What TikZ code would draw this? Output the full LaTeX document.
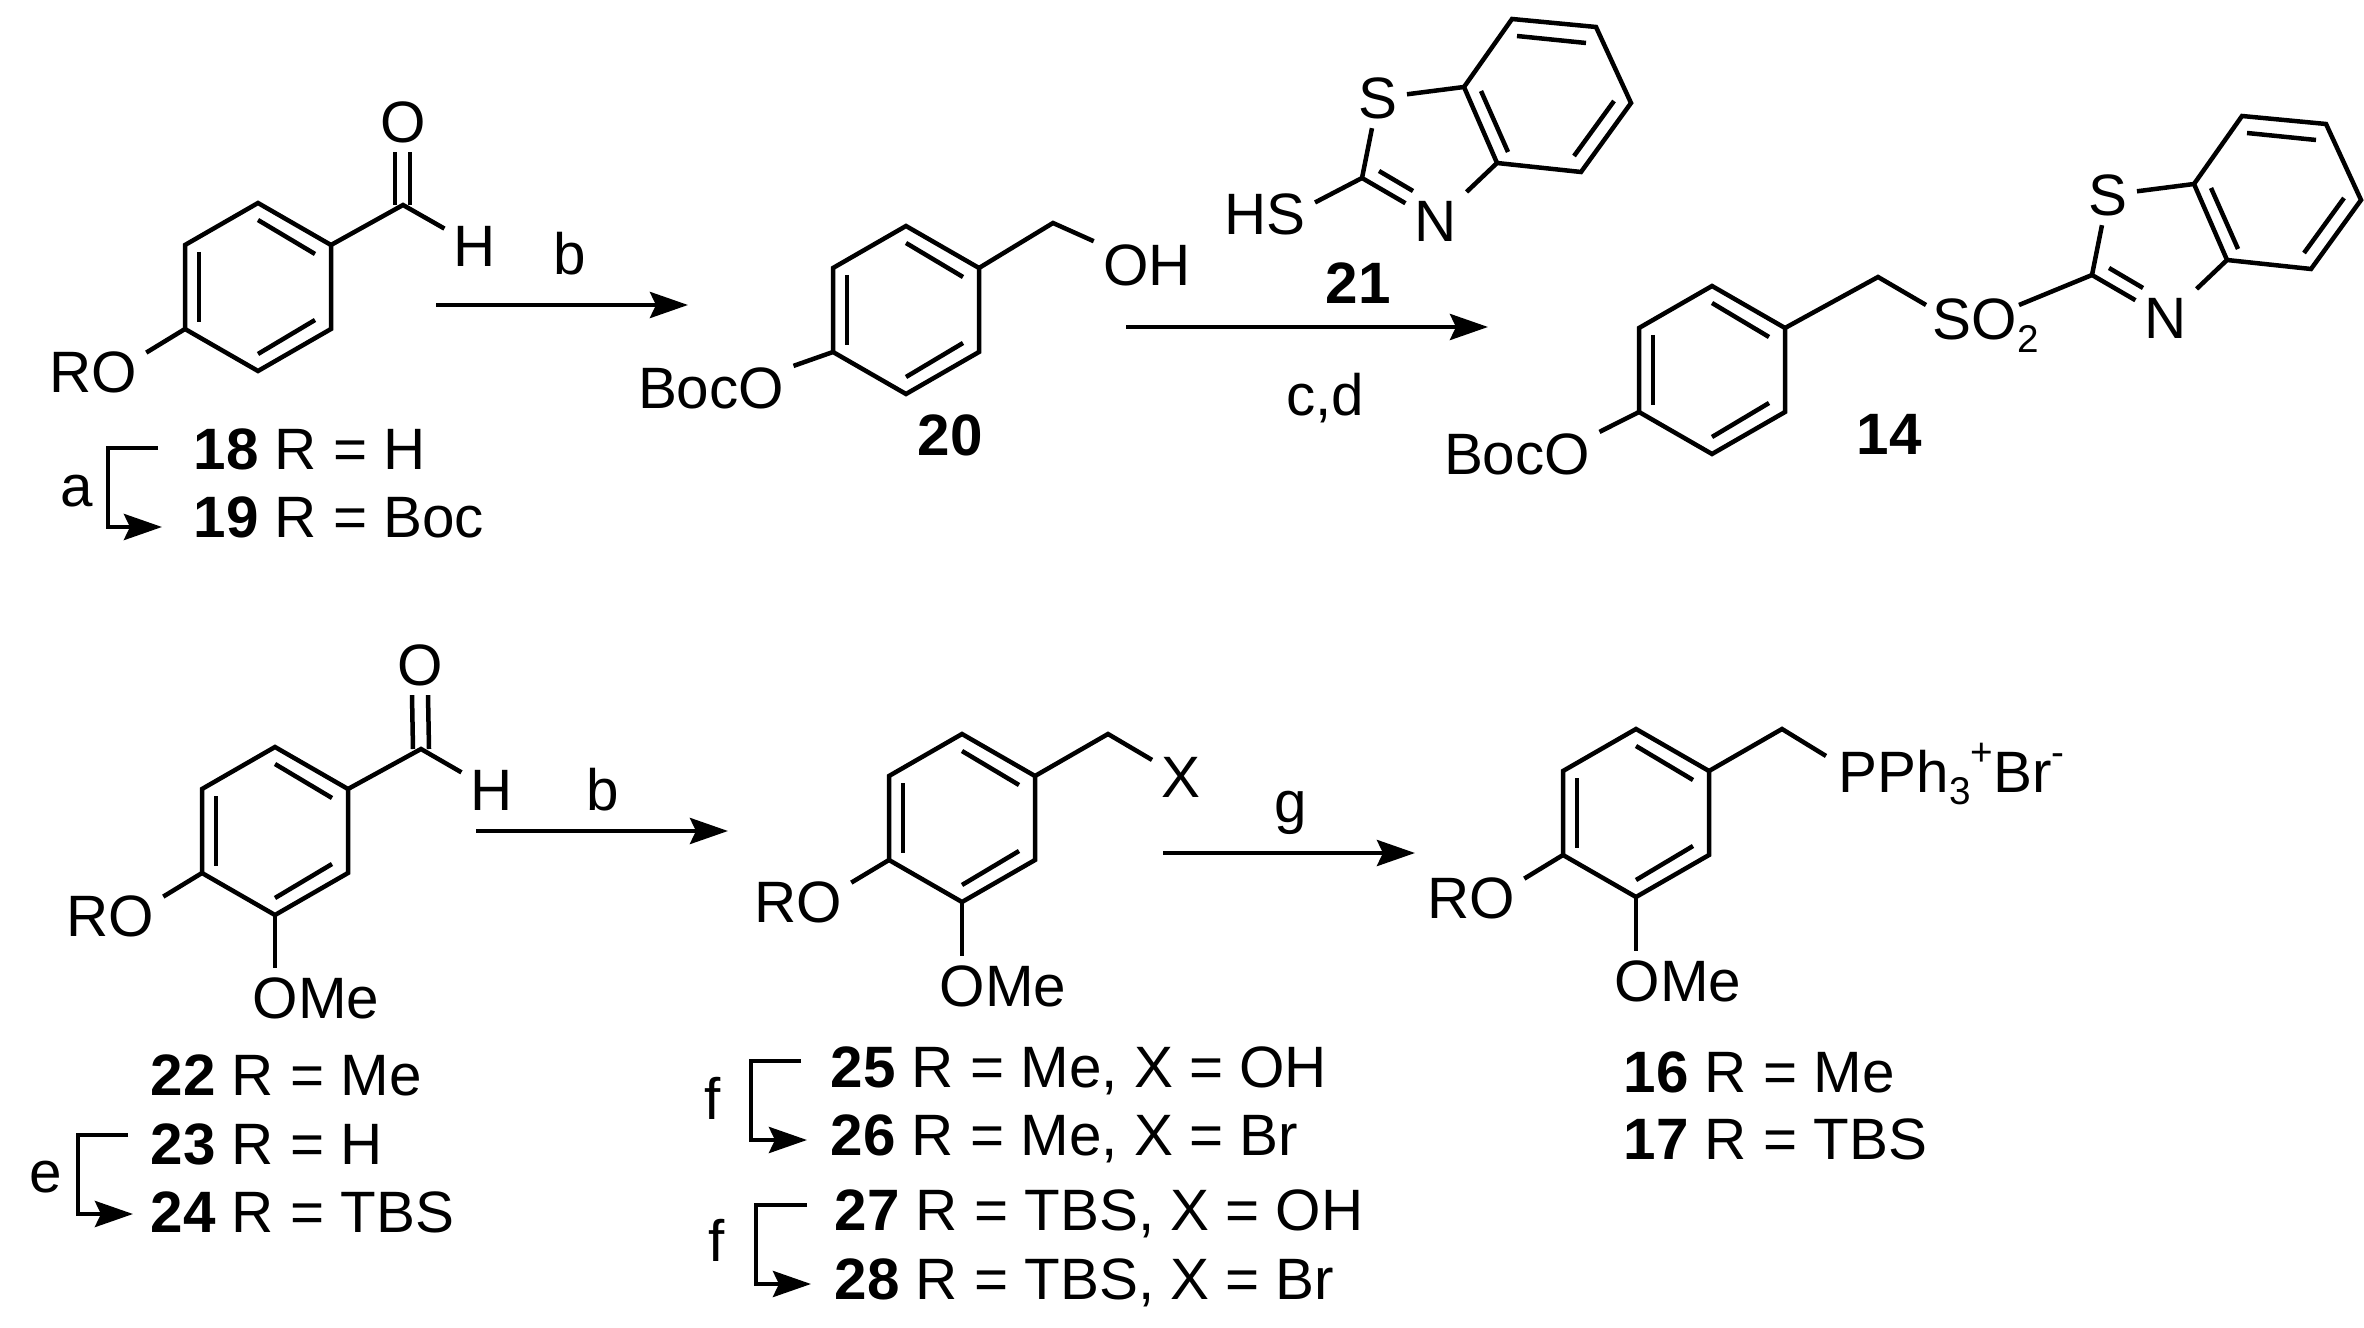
\documentclass[tikz,border=0pt]{standalone}
\usepackage{fontspec}
\setmainfont{Liberation Sans}
\usetikzlibrary{arrows.meta,positioning,calc}

\newcommand{\lblfont}{\fontsize{16.6}{20}\selectfont}
\newcommand{\sbs}[1]{\raisebox{-3.6pt}{\fontsize{11}{12}\selectfont #1}}
\newcommand{\sps}[1]{\raisebox{7.6pt}{\fontsize{11}{12}\selectfont #1}}

\tikzset{
  bond/.style={line width=0.045cm},
  rxn/.style={line width=0.045cm,-{Stealth[length=0.38cm,width=0.26cm,inset=0.06cm]}},
  atom/.style={inner sep=2.5pt,font=\lblfont},
  cmpd/.style={inner sep=0pt,anchor=base west,font=\lblfont},
}

% phenyl ring, point up, bonds drawn from its named corners
\newcommand{\arylring}[3]{%
  \begin{scope}[shift={(#2,#3)}]
    \coordinate (#1t) at (0,-84);
    \coordinate (#1ur) at (73,-42);
    \coordinate (#1lr) at (73,42);
    \coordinate (#1b) at (0,84);
    \coordinate (#1ll) at (-73,42);
    \coordinate (#1ul) at (-73,-42);
    \draw[bond] (#1t) -- (#1ur) -- (#1lr) -- (#1b) -- (#1ll) -- (#1ul) -- cycle;
    \draw[bond] (0,-67) -- (57,-33);
    \draw[bond] (0,67) -- (57,33);
    \draw[bond] (-59,-35) -- (-59,35);
  \end{scope}}

% benzothiazole, placed by its C2
\newcommand{\thiazring}[3]{%
  \begin{scope}[shift={(#2,#3)}]
    \coordinate (#1c) at (0,0);
    \coordinate (#1tl) at (150,-159);
    \coordinate (#1tr) at (234,-151);
    \coordinate (#1rt) at (269,-75);
    \coordinate (#1lo) at (219,-6);
    \coordinate (#1na) at (135,-15);
    \coordinate (#1sa) at (102,-91);
    \node[atom] (#1s) at (16,-80) {S};
    \node[atom] (#1n) at (74,43) {N};
    \draw[bond] (#1sa) -- (#1tl) -- (#1tr) -- (#1rt) -- (#1lo) -- (#1na) -- (#1sa);
    \draw[bond] (155,-142) -- (224,-135);
    \draw[bond] (119,-87) -- (146,-26);
    \draw[bond] (252,-77) -- (212,-22);
    \draw[bond] (#1s) -- (#1sa);
    \draw[bond] (#1s) -- (#1c);
    \draw[bond] (#1c) -- (#1n);
    \draw[bond] (17,-7) -- (51,13);
    \draw[bond] (#1n) -- (#1na);
  \end{scope}}

\begin{document}
\begin{tikzpicture}[x=0.01cm,y=-0.01cm]
  \useasboundingbox (0,0) rectangle (2364,1328);

  % aldehyde 18/19
  \arylring{ra}{258}{287}
  \coordinate (cho1) at (403,205);
  \node[atom] (o1) at (403,122) {O};
  \node[atom] (h1) at (475,246) {H};
  \node[atom] (ro1) at (93,372) {RO};
  \draw[bond] (raur) -- (cho1) -- (h1);
  \draw[bond] ([xshift=-0.08cm]o1.south) -- ([xshift=-0.08cm]cho1);
  \draw[bond] ([xshift=0.07cm]o1.south) -- ([xshift=0.07cm]cho1);
  \draw[bond] (rall) -- (ro1.20);
  \node[cmpd] (l18) at (193,470) {\textbf{18} R = H};
  \node[cmpd] (l19) at (193,538) {\textbf{19} R = Boc};

  % alcohol 20
  \arylring{rb}{906}{310}
  \coordinate (ch2) at (1053,223);
  \node[atom] (oh) at (1147,265) {OH};
  \node[atom] (boc1) at (711,388) {BocO};
  \draw[bond] (rbur) -- (ch2) -- (oh);
  \draw[bond] (rbll) -- (boc1.15);
  \node[atom,font=\lblfont\bfseries] (l20) at (950,435) {20};

  % thiol 21
  \thiazring{ta}{1362}{178}
  \node[atom] (hs) at (1265,214) {HS};
  \draw[bond] (tac) -- (hs.13);
  \node[atom,font=\lblfont\bfseries] (l21) at (1358,283) {21};

  % sulfone 14
  \arylring{rc}{1712}{370}
  \thiazring{tb}{2092}{275}
  \coordinate (ch2b) at (1878,277);
  \coordinate (so2l) at (1926,305);
  \coordinate (so2r) at (2019,305);
  \node[cmpd] (so2) at (1932,340) {SO\sbs{2}};
  \node[atom] (boc2) at (1517,454) {BocO};
  \draw[bond] (rcur) -- (ch2b) -- (so2l);
  \draw[bond] (so2r) -- (tbc);
  \draw[bond] (rcll) -- (boc2.15);
  \node[atom,font=\lblfont\bfseries] (l14) at (1889,434) {14};

  % aldehyde 22-24
  \arylring{rd}{275}{831}
  \coordinate (cho2) at (421,749);
  \node[atom] (o2) at (420,665) {O};
  \node[atom] (h2) at (492,790) {H};
  \node[atom] (ro2) at (110,916) {RO};
  \node[atom] (ome1) at (316,998) {OMe};
  \draw[bond] (rdur) -- (cho2) -- (h2);
  \draw[bond] ([xshift=-0.08cm]o2.south) -- ([xshift=-0.08cm]cho2);
  \draw[bond] ([xshift=0.08cm]o2.south) -- ([xshift=0.08cm]cho2);
  \draw[bond] (rdll) -- (ro2.20);
  \draw[bond] (rdb) -- (rdb |- ome1.north);
  \node[cmpd] (l22) at (150,1095) {\textbf{22} R = Me};
  \node[cmpd] (l23) at (150,1164) {\textbf{23} R = H};
  \node[cmpd] (l24) at (150,1232) {\textbf{24} R = TBS};

  % benzyl X 25-28
  \arylring{re}{962}{818}
  \coordinate (ch2x) at (1108,734);
  \node[atom] (xx) at (1181,777) {X};
  \node[atom] (ro3) at (798,902) {RO};
  \node[atom] (ome2) at (1003,986) {OMe};
  \draw[bond] (reur) -- (ch2x) -- (xx);
  \draw[bond] (rell) -- (ro3.20);
  \draw[bond] (reb) -- (reb |- ome2.north);
  \node[cmpd] (l25) at (830,1087) {\textbf{25} R = Me, X = OH};
  \node[cmpd] (l26) at (830,1155) {\textbf{26} R = Me, X = Br};
  \node[cmpd] (l27) at (834,1230) {\textbf{27} R = TBS, X = OH};
  \node[cmpd] (l28) at (834,1299) {\textbf{28} R = TBS, X = Br};

  % phosphonium 16/17
  \arylring{rf}{1636}{813}
  \coordinate (ch2p) at (1782,729);
  \coordinate (ppl) at (1826,756);
  \node[cmpd] (pph) at (1838,792) {PPh\sbs{3}\sps{+}Br\sps{-}};
  \node[atom] (ro4) at (1471,898) {RO};
  \node[atom] (ome3) at (1678,981) {OMe};
  \draw[bond] (rfur) -- (ch2p) -- (ppl);
  \draw[bond] (rfll) -- (ro4.20);
  \draw[bond] (rfb) -- (rfb |- ome3.north);
  \node[cmpd] (l16) at (1623,1092) {\textbf{16} R = Me};
  \node[cmpd] (l17) at (1623,1159) {\textbf{17} R = TBS};

  % reaction arrows
  \foreach \name/\xa/\xb/\yy in {arb/436/688/305,arcd/1126/1488/327,arbb/476/728/831,arg/1163/1415/853} {
    \coordinate (\name s) at (\xa,\yy);
    \coordinate (\name e) at (\xb,\yy);
    \draw[rxn] (\name s) -- (\name e);
  }
  \node[atom] (tb) at (570,254) {b};
  \node[atom] (tcd) at (1325,398) {c,d};
  \node[atom] (tbb) at (603,790) {b};
  \node[atom] (tg) at (1291,813) {g};

  % bent arrows between compound labels
  \foreach \name/\xa/\ya/\xc/\xb/\yb in {ka/158/448/108/162/527,ke/128/1135/78/133/1214,kf/801/1061/751/807/1140,kff/807/1205/756/811/1284} {
    \coordinate (\name s) at (\xa,\ya);
    \coordinate (\name c) at (\xc,\ya);
    \coordinate (\name e) at (\xb,\yb);
    \draw[rxn] (\name s) -- (\name c) |- (\name e);
  }
  \node[atom] (ta) at (77,491) {a};
  \node[atom] (te) at (46,1177) {e};
  \node[atom] (tf) at (713,1098) {f};
  \node[atom] (tff) at (717,1240) {f};
\end{tikzpicture}
\end{document}
